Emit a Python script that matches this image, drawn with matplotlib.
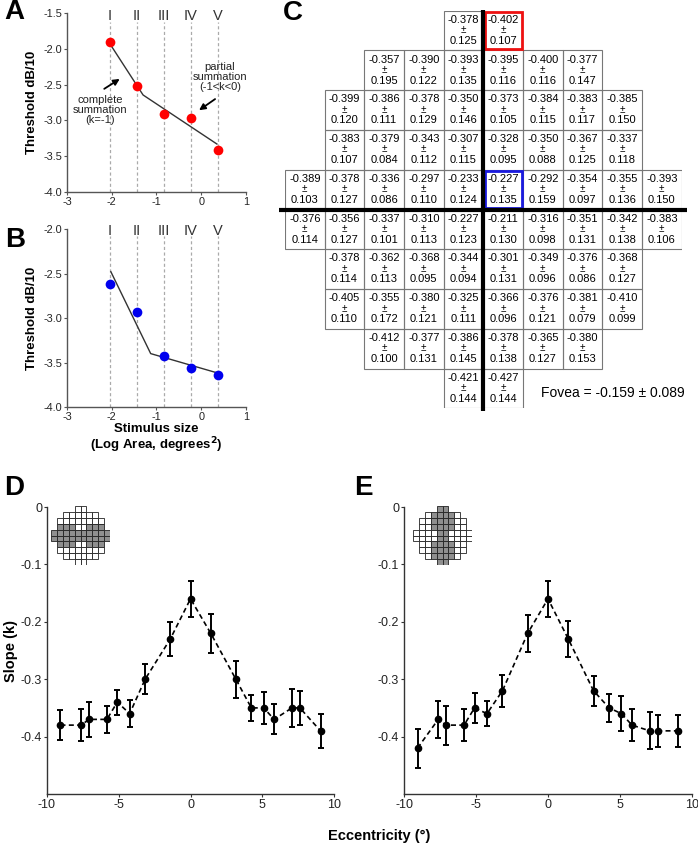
import matplotlib
matplotlib.use("Agg")
import matplotlib.pyplot as plt
from matplotlib.patches import Rectangle

plt.rcParams['font.family'] = ['Liberation Sans', 'DejaVu Sans']
plt.rcParams['axes.unicode_minus'] = False

# ---------------- data ----------------
size_labels = ['I', 'II', 'III', 'IV', 'V']
size_logarea = [-2.04, -1.44, -0.84, -0.24, 0.37]

thr_A = [-1.91, -2.52, -2.91, -2.96, -3.41]
fitA_x = [-2.00, -1.30, 0.35]
fitA_y = [-1.97, -2.645, -3.33]

thr_B = [-2.62, -2.93, -3.43, -3.56, -3.64]
fitB_x = [-2.02, -1.13, 0.38]
fitB_y = [-2.48, -3.40, -3.62]

# Panel C: 10-2 grid, rows top to bottom
c_means = [
    [-0.378, -0.402],
    [-0.357, -0.390, -0.393, -0.395, -0.400, -0.377],
    [-0.399, -0.386, -0.378, -0.350, -0.373, -0.384, -0.383, -0.385],
    [-0.383, -0.379, -0.343, -0.307, -0.328, -0.350, -0.367, -0.337],
    [-0.389, -0.378, -0.336, -0.297, -0.233, -0.227, -0.292, -0.354, -0.355, -0.393],
    [-0.376, -0.356, -0.337, -0.310, -0.227, -0.211, -0.316, -0.351, -0.342, -0.383],
    [-0.378, -0.362, -0.368, -0.344, -0.301, -0.349, -0.376, -0.368],
    [-0.405, -0.355, -0.380, -0.325, -0.366, -0.376, -0.381, -0.410],
    [-0.412, -0.377, -0.386, -0.378, -0.365, -0.380],
    [-0.421, -0.427],
]
c_sds = [
    [0.125, 0.107],
    [0.195, 0.122, 0.135, 0.116, 0.116, 0.147],
    [0.120, 0.111, 0.129, 0.146, 0.105, 0.115, 0.117, 0.150],
    [0.107, 0.084, 0.112, 0.115, 0.095, 0.088, 0.125, 0.118],
    [0.103, 0.127, 0.086, 0.110, 0.124, 0.135, 0.159, 0.097, 0.136, 0.150],
    [0.114, 0.127, 0.101, 0.113, 0.123, 0.130, 0.098, 0.131, 0.138, 0.106],
    [0.114, 0.113, 0.095, 0.094, 0.131, 0.096, 0.086, 0.127],
    [0.110, 0.172, 0.121, 0.111, 0.096, 0.121, 0.079, 0.099],
    [0.100, 0.131, 0.145, 0.138, 0.127, 0.153],
    [0.144, 0.144],
]
highlight_red = (0, 1)    # (row, index in row)
highlight_blue = (4, 5)
fovea_text = "Fovea = -0.159 \u00b1 0.089"

# Panel D (horizontal) and E (vertical)
ecc_D = [-9.06, -7.62, -7.07, -5.83, -5.10, -4.24, -3.16, -1.41, 0,
         1.41, 3.16, 4.24, 5.10, 5.83, 7.07, 7.62, 9.06]
slope_D = [-0.38, -0.38, -0.37, -0.37, -0.34, -0.36, -0.30, -0.23, -0.16,
           -0.22, -0.30, -0.35, -0.35, -0.37, -0.35, -0.35, -0.39]
err_D = [0.026, 0.028, 0.030, 0.024, 0.022, 0.024, 0.026, 0.030, 0.031,
         0.034, 0.032, 0.022, 0.028, 0.026, 0.033, 0.030, 0.030]

ecc_E = [-9.06, -7.62, -7.07, -5.83, -5.10, -4.24, -3.16, -1.41, 0,
         1.41, 3.16, 4.24, 5.10, 5.83, 7.07, 7.62, 9.06]
slope_E = [-0.42, -0.37, -0.38, -0.38, -0.35, -0.36, -0.32, -0.22, -0.16,
           -0.23, -0.32, -0.35, -0.36, -0.38, -0.39, -0.39, -0.39]
err_E = [0.034, 0.032, 0.034, 0.028, 0.026, 0.022, 0.028, 0.032, 0.031,
         0.032, 0.026, 0.024, 0.030, 0.028, 0.032, 0.028, 0.028]

# ---------------- figure ----------------
W, H = 698, 848
fig = plt.figure(figsize=(W / 100, H / 100), dpi=100)


def ax_px(l, t, r, b):
    return fig.add_axes([l / W, 1 - b / H, (r - l) / W, (b - t) / H])


def style_small(ax, color='#555555', size=7):
    for s in ['top', 'right']:
        ax.spines[s].set_visible(False)
    for s in ['left', 'bottom']:
        ax.spines[s].set_color(color)
        ax.spines[s].set_linewidth(1.0)
    ax.tick_params(length=2.5, width=0.8, colors=color, labelcolor='#222222',
                   labelsize=size, pad=1)


def size_panel(ax, ylim, yticks, thr, fx, fy, color, lab_y, dash_top):
    ax.set_xlim(-3, 1)
    ax.set_ylim(*ylim)
    ax.set_xticks([-3, -2, -1, 0, 1])
    ax.set_yticks(yticks)
    ax.set_yticklabels(['%.1f' % v for v in yticks])
    style_small(ax, size=7.8)
    for x, lab in zip(size_logarea, size_labels):
        ax.plot([x, x], [ylim[0], dash_top], color='#aaaaaa', lw=0.9,
                ls=(0, (2.5, 2)), zorder=1)
        ax.text(x, lab_y, lab, ha='center', va='center', fontsize=10.5,
                color='#333333')
    ax.plot(fx, fy, color='#333333', lw=1.0, zorder=2)
    ax.plot(size_logarea, thr, 'o', color=color, ms=7, mec='none', zorder=3)
    ax.set_ylabel('Threshold dB/10', fontsize=9.5, fontweight='bold', labelpad=4)


axA = ax_px(67, 13, 246, 192)
size_panel(axA, (-4.0, -1.5), [-4.0, -3.5, -3.0, -2.5, -2.0, -1.5], thr_A,
           fitA_x, fitA_y, '#ff0000', -1.54, -1.62)
axA.annotate('', xy=(-1.77, -2.40), xytext=(-2.22, -2.58),
             arrowprops=dict(arrowstyle='-|>', color='black', lw=1.3,
                             mutation_scale=9))
axA.text(-2.26, -2.86, 'complete\nsummation\n(k=-1)', ha='center', va='center',
         fontsize=8, linespacing=1.0, color='#222222')
axA.annotate('', xy=(-0.10, -2.88), xytext=(0.36, -2.68),
             arrowprops=dict(arrowstyle='-|>', color='black', lw=1.3,
                             mutation_scale=9))
axA.text(0.42, -2.39, 'partial\nsummation\n(-1<k<0)', ha='center', va='center',
         fontsize=8, linespacing=1.0, color='#222222')

axB = ax_px(67, 229, 246, 407)
size_panel(axB, (-4.0, -2.0), [-4.0, -3.5, -3.0, -2.5, -2.0], thr_B,
           fitB_x, fitB_y, '#0000ee', -2.02, -2.08)
fig.text(156 / W, 1 - 429 / H, 'Stimulus size', ha='center', va='center',
         fontsize=9.5, fontweight='bold')
fig.text(156 / W, 1 - 445 / H, '(Log Area, degrees$^{\\mathbf{2}}$)', ha='center',
         va='center', fontsize=9.5, fontweight='bold')

# ---------------- panel C ----------------
axC = ax_px(285, 10.7, 681.7, 408.3)
axC.set_xlim(0, 10)
axC.set_ylim(10, 0)
axC.axis('off')
for r, (means, sds) in enumerate(zip(c_means, c_sds)):
    start = (10 - len(means)) // 2
    for i, (m, s) in enumerate(zip(means, sds)):
        c = start + i
        ec, lw, z = '#777777', 0.8, 2
        if (r, i) == highlight_red:
            ec, lw, z = '#ee1111', 2.0, 4
        elif (r, i) == highlight_blue:
            ec, lw, z = '#1a1adf', 2.0, 4
        inset = 0.03 if lw > 1 else 0
        axC.add_patch(Rectangle((c + inset, r + inset), 1 - 2 * inset, 1 - 2 * inset,
                                fill=False, ec=ec, lw=lw, zorder=z))
        axC.text(c + 0.5, r + 0.23, '%.3f' % m, ha='center', va='center', fontsize=8)
        axC.text(c + 0.5, r + 0.49, '\u00b1', ha='center', va='center', fontsize=7)
        axC.text(c + 0.5, r + 0.76, '%.3f' % s, ha='center', va='center', fontsize=8)
axC.plot([5, 5], [-0.02, 10.06], color='black', lw=3.0, clip_on=False, zorder=5,
         solid_capstyle='butt')
axC.plot([-0.16, 10.13], [5, 5], color='black', lw=3.0, clip_on=False, zorder=5,
         solid_capstyle='butt')
fig.text(613 / W, 1 - 393 / H, fovea_text, ha='center', va='center', fontsize=10)


# ---------------- panels D and E ----------------
def slope_panel(ax, x, y, e):
    ax.set_xlim(-10, 10)
    ax.set_ylim(-0.5, 0)
    ax.set_xticks([-10, -5, 0, 5, 10])
    ax.set_yticks([-0.4, -0.3, -0.2, -0.1, 0])
    ax.set_yticklabels(['-0.4', '-0.3', '-0.2', '-0.1', '0'])
    style_small(ax, color='#333333', size=9)
    ax.plot(x, y, color='black', lw=1.2, ls=(0, (3, 2)), zorder=2)
    ax.errorbar(x, y, yerr=e, fmt='o', color='black', ms=4.5, capsize=2.5,
                elinewidth=1.4, capthick=1.4, zorder=3)


axD = ax_px(47, 507, 334, 794)
slope_panel(axD, ecc_D, slope_D, err_D)
axD.set_ylabel('Slope (k)', fontsize=10.5, fontweight='bold', labelpad=2)

axE = ax_px(404, 507, 692, 794)
slope_panel(axE, ecc_E, slope_E, err_E)

fig.text(379 / W, 1 - 836 / H, 'Eccentricity (\u00b0)', ha='center', va='center',
         fontsize=10.5, fontweight='bold')


def mini_grid(l, t, size, shade):
    ax = ax_px(l, t, l + size, t + size)
    ax.set_xlim(0, 10)
    ax.set_ylim(10, 0)
    ax.axis('off')
    for r, means in enumerate(c_means):
        start = (10 - len(means)) // 2
        for i in range(len(means)):
            c = start + i
            fc = '#8f8f8f' if shade(r, c) else 'white'
            ax.add_patch(Rectangle((c, r), 1, 1, fc=fc, ec='#222222', lw=0.6))


mini_grid(51, 506, 59, lambda r, c: 3 <= r <= 6 and not (r in (3, 6) and c in (4, 5)))
mini_grid(413, 506, 59, lambda r, c: 3 <= c <= 6 and not (c in (3, 6) and r in (4, 5)))

# panel letters
for lab, x, y in [('A', 14, 12), ('B', 15, 240), ('C', 293, 13), ('D', 14, 488),
                  ('E', 363, 488)]:
    fig.text(x / W, 1 - y / H, lab, ha='center', va='center', fontsize=20,
             fontweight='bold')

fig.savefig('out.png', dpi=100)
